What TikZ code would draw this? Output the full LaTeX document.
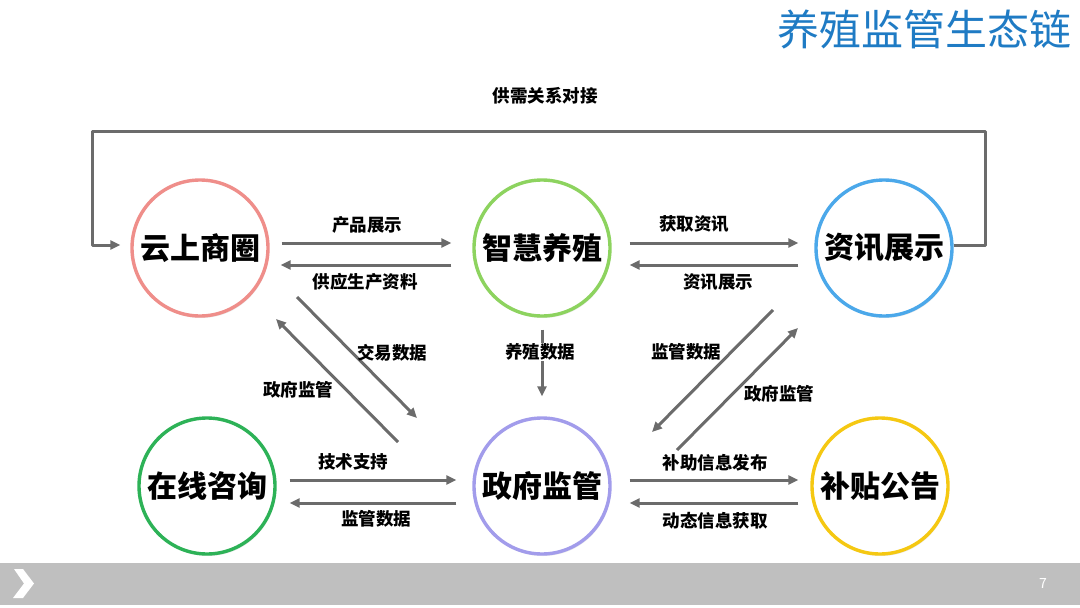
\documentclass[tikz,border=0pt]{standalone}
\usepackage{fontspec}
\setmainfont{Noto Sans CJK SC}
\usetikzlibrary{arrows.meta,calc,shadows}
\definecolor{flowgray}{HTML}{6B6B6B}
\definecolor{titleblue}{HTML}{1F7BC4}
\definecolor{barpanel}{HTML}{BFBFBF}
\definecolor{ringshop}{HTML}{EF8E8A}
\definecolor{ringfarm}{HTML}{8DD35F}
\definecolor{ringinfo}{HTML}{4BA8EA}
\definecolor{ringconsult}{HTML}{2DB257}
\definecolor{ringgov}{HTML}{A29CEB}
\definecolor{ringsubsidy}{HTML}{F5C812}

\begin{document}
\begin{tikzpicture}[
  x=1pt,
  y=-1pt,
  line join=round,
  hub/.style={circle,draw=#1,fill=white,line width=3.4pt,minimum size=136pt,inner sep=0pt,
    font=\fontsize{30}{32}\selectfont\bfseries,
    drop shadow={shadow xshift=1pt,shadow yshift=-2pt,opacity=0.18}},
  flow/.style={draw=flowgray,line width=3pt,-{Triangle[length=10pt,width=9pt]}},
  tag/.style={font=\fontsize{17.5}{19}\selectfont\bfseries,inner sep=1pt}
]
  % Slide frame, 1080 x 608 px.
  \useasboundingbox (0,0) rectangle (1080,608);

  % Title and footer bar.
  \node[text=titleblue,font=\fontsize{42}{44}\selectfont] (title) at (924,29) {养殖监管生态链};
  \fill[barpanel] (0,563) rectangle (1080,605);
  \fill[white] (14,569) -- (23,569) -- (34,583.5) -- (23,598) -- (13,598) -- (24,583.5) -- cycle;
  \node[text=white,font=\fontsize{14}{16}\selectfont] (pageno) at (1043,584) {7};

  % Top row: market, farming, information.
  \node[hub=ringshop] (shop) at (200,248) {云上商圈};
  \node[hub=ringfarm] (farm) at (542,248) {智慧养殖};
  \node[hub=ringinfo] (info) at (884,248) {资讯展示};

  % Bottom row: consulting, government, subsidy.
  \node[hub=ringconsult] (consult) at (207,486) {在线咨询};
  \node[hub=ringgov] (gov) at (542,486) {政府监管};
  \node[hub=ringsubsidy] (subsidy) at (880,486) {补贴公告};

  % Supply and demand loop over the top.
  \coordinate (loopR) at (985,131);
  \coordinate (loopL) at (92,131);
  \draw[flow,shorten >=10pt] ([yshift=3pt]info.east) -| (loopR) -- (loopL) |- ([yshift=3pt]shop.west);
  \node[tag] (lblLoop) at (545,96) {供需关系对接};

  % Top row exchanges.
  \draw[flow,shorten <=12pt,shorten >=21pt] ([yshift=5pt]shop.east) -- ([yshift=5pt]farm.west);
  \draw[flow,shorten <=21pt,shorten >=11pt] ([yshift=-17pt]farm.west) -- ([yshift=-17pt]shop.east);
  \draw[flow,shorten <=18pt,shorten >=16pt] ([yshift=5pt]farm.east) -- ([yshift=5pt]info.west);
  \draw[flow,shorten <=16pt,shorten >=18pt] ([yshift=-17pt]info.west) -- ([yshift=-17pt]farm.east);
  \node[tag] (lblShow) at (367,225) {产品展示};
  \node[tag] (lblSupply) at (365,282) {供应生产资料};
  \node[tag] (lblFetch) at (694,224) {获取资讯};
  \node[tag] (lblNews) at (718,282) {资讯展示};

  % Links down to government supervision.
  \draw[flow,shorten <=12pt,shorten >=20pt] (farm.south) -- (gov.north);
  \node[tag,fill=white] (lblFarmData) at (540,352) {养殖数据};
  \draw[flow] ($(shop)+(97,49)$) -- ($(gov)+(-125,-68)$);
  \draw[flow] ($(gov)+(-144,-44)$) -- ($(shop)+(76,71)$);
  \node[tag] (lblTrade) at (392,353) {交易数据};
  \node[tag] (lblGovL) at (298,390) {政府监管};
  \draw[flow] ($(info)+(-111,62)$) -- ($(gov)+(110,-54)$);
  \draw[flow] ($(gov)+(135,-36)$) -- ($(info)+(-86,80)$);
  \node[tag] (lblSuper) at (686,352) {监管数据};
  \node[tag] (lblGovR) at (779,394) {政府监管};

  % Bottom row exchanges.
  \draw[flow,shorten <=13pt,shorten >=16pt] ([yshift=6pt]consult.east) -- ([yshift=6pt]gov.west);
  \draw[flow,shorten <=16pt,shorten >=13pt] ([yshift=-17pt]gov.west) -- ([yshift=-17pt]consult.east);
  \draw[flow,shorten <=18pt,shorten >=12pt] ([yshift=6pt]gov.east) -- ([yshift=6pt]subsidy.west);
  \draw[flow,shorten <=12pt,shorten >=18pt] ([yshift=-17pt]subsidy.west) -- ([yshift=-17pt]gov.east);
  \node[tag] (lblTech) at (353,462) {技术支持};
  \node[tag] (lblSuperB) at (376,519) {监管数据};
  \node[tag] (lblAid) at (715,463) {补助信息发布};
  \node[tag] (lblTrend) at (715,521) {动态信息获取};
\end{tikzpicture}
\end{document}
